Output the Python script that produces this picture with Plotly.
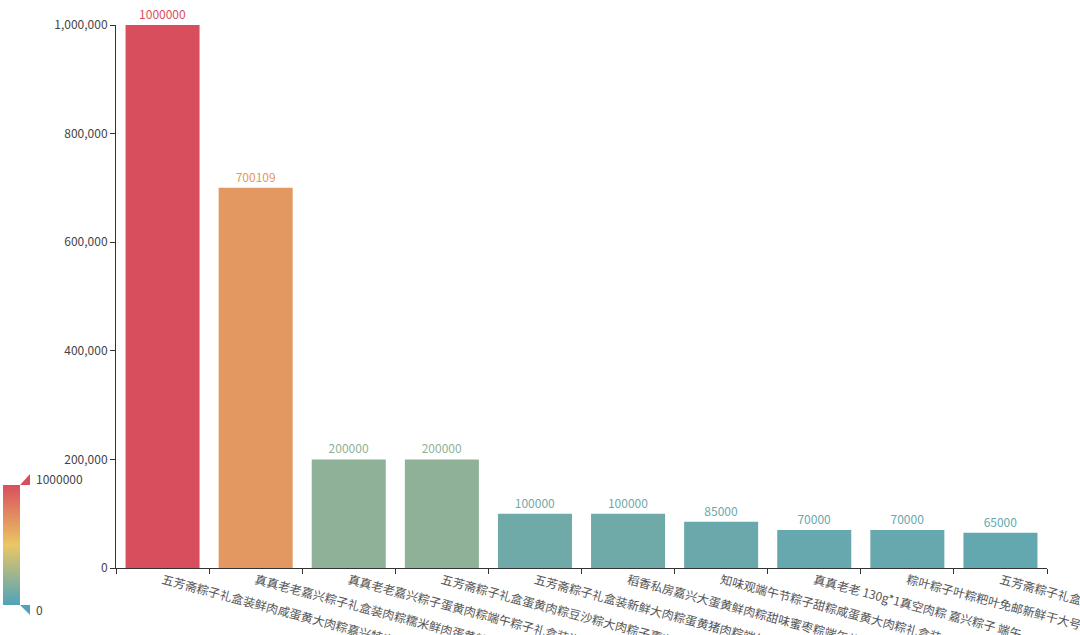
import plotly.graph_objects as go
from plotly.colors import sample_colorscale

# ── data ──
products = [
    "五芳斋粽子礼盒装鲜肉咸蛋黄大肉粽嘉兴特产端午节",
    "真真老老嘉兴粽子礼盒装肉粽糯米鲜肉蛋黄粽子",
    "真真老老嘉兴粽子蛋黄肉粽端午粽子礼盒装送礼",
    "五芳斋粽子礼盒蛋黄肉粽豆沙粽大肉粽子嘉兴特产",
    "五芳斋粽子礼盒装新鲜大肉粽蛋黄猪肉粽端午",
    "稻香私房嘉兴大蛋黄鲜肉粽甜味蜜枣粽端午礼盒",
    "知味观端午节粽子甜粽咸蛋黄大肉粽礼盒装",
    "真真老老 130g*1真空肉粽 嘉兴粽子 端午",
    "粽叶粽子叶粽粑叶免邮新鲜干大号竹叶包粽子",
    "五芳斋粽子礼盒蛋黄鲜肉粽嘉兴特产",
]
sales = [1000000, 700109, 200000, 200000, 100000, 100000, 85000, 70000, 70000, 65000]

vmin, vmax = 0, 1000000
scale = [[0.0, "#50a3ba"], [0.5, "#eac763"], [1.0, "#d94e5d"]]
FONT = "Microsoft YaHei, Noto Sans CJK SC, sans-serif"

bar_colors = sample_colorscale(scale, [(v - vmin) / (vmax - vmin) for v in sales])

# pixel -> paper helpers for the visual-map decoration (plot area 116..1047 x 25..568)
px_x = lambda p: (p - 116) / 931
px_y = lambda p: (568 - p) / 543

fig = go.Figure()
fig.add_trace(go.Bar(
    x=products, y=sales,
    marker=dict(
        color=sales, colorscale=scale, cmin=vmin, cmax=vmax,
        line=dict(width=0),
        colorbar=dict(
            xref="container", x=3 / 1080, xanchor="left",
            yref="paper", y=px_y(605), yanchor="bottom",
            lenmode="pixels", len=120, thickness=17,
            outlinewidth=0, showticklabels=False, ticks="",
            xpad=0, ypad=0,
        ),
    ),
    text=[str(v) for v in sales],
    textposition="outside",
    textfont=dict(color=bar_colors, size=12, family=FONT),
    cliponaxis=False,
    hovertemplate="%{x}<br>%{y}<extra></extra>",
))

# visual map handles + labels
fig.add_shape(type="path", xref="paper", yref="paper", line_width=0, fillcolor="#d94e5d",
              path=f"M {px_x(20)} {px_y(485)} L {px_x(30)} {px_y(485)} L {px_x(30)} {px_y(474)} Z")
fig.add_shape(type="path", xref="paper", yref="paper", line_width=0, fillcolor="#50a3ba",
              path=f"M {px_x(20)} {px_y(605)} L {px_x(30)} {px_y(605)} L {px_x(30)} {px_y(615)} Z")
fig.add_annotation(xref="paper", yref="paper", x=px_x(34), y=px_y(478), text=str(vmax),
                   showarrow=False, xanchor="left", yanchor="middle",
                   font=dict(size=12, color="#444", family=FONT))
fig.add_annotation(xref="paper", yref="paper", x=px_x(34), y=px_y(609), text=str(vmin),
                   showarrow=False, xanchor="left", yanchor="middle",
                   font=dict(size=12, color="#444", family=FONT))

fig.update_layout(
    width=1080, height=635,
    margin=dict(l=116, r=33, t=25, b=67),
    paper_bgcolor="white", plot_bgcolor="white",
    font=dict(family=FONT, size=12, color="#444"),
    bargap=0.205,
    showlegend=False,
    xaxis=dict(
        type="category", tickangle=15, automargin=False,
        showline=True, linecolor="#333", linewidth=1,
        ticks="outside", ticklen=5, tickcolor="#333", tickson="boundaries",
        showgrid=False, zeroline=False,
        tickfont=dict(size=12, color="#555", family=FONT),
    ),
    yaxis=dict(
        range=[0, 1000000], dtick=200000, tickformat=",",
        automargin=False,
        showline=True, linecolor="#333", linewidth=1,
        ticks="outside", ticklen=5, tickcolor="#333",
        showgrid=False, zeroline=False,
        tickfont=dict(size=12, color="#444", family=FONT),
    ),
)

fig.write_html("out.html", config={"displayModeBar": False},
               post_script="document.body.style.margin='0';")
